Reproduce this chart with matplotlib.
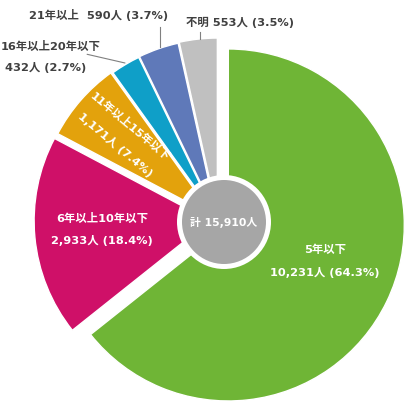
import matplotlib.pyplot as plt
from matplotlib.patches import Circle

plt.rcParams['font.family'] = ['DejaVu Sans', 'Noto Sans CJK JP']

# data
categories = ["5年以下", "6年以上10年以下", "11年以上15年以下", "16年以上20年以下", "21年以上", "不明"]
counts = [10231, 2933, 1171, 432, 590, 553]
shares = [64.3, 18.4, 7.4, 2.7, 3.7, 3.5]
total = 15910
colors = ["#6fb536", "#cf1068", "#e3a20c", "#0f9fc8", "#5f79b9", "#c0c0c0"]
explode = [0.065, 0.045, 0.035, 0.028, 0.03, 0.034]

R_PX = 176.0
CX, CY = 218.0, 220.0
FS = 8.2


def px(x, y):
    # image pixel -> data coords
    return ((x - CX) / R_PX, (CY - y) / R_PX)


fig = plt.figure(figsize=(4.05, 4.03), dpi=100)
ax = fig.add_axes([0, 0, 1, 1])
ax.pie(counts, colors=colors, explode=explode, startangle=90, counterclock=False,
       radius=1, wedgeprops=dict(edgecolor="white", linewidth=1))
ax.set_xlim(-CX / R_PX, (405 - CX) / R_PX)
ax.set_ylim(-(403 - CY) / R_PX, CY / R_PX)
ax.set_aspect("equal")
ax.axis("off")

# center circle
cc = px(224, 222)
ax.add_patch(Circle(cc, 47 / R_PX, facecolor="white", edgecolor="none", zorder=3))
ax.add_patch(Circle(cc, 42 / R_PX, facecolor="#a6a6a6", edgecolor="none", zorder=4))
ax.text(*cc, "計 {:,}人".format(total), color="white", fontsize=7.8, fontweight="bold",
        ha="center", va="center", zorder=5)

lab = lambda i: "{:,}人 ({}%)".format(counts[i], shares[i])
tk = dict(fontsize=FS, fontweight="bold", ha="center", va="center")

# inside labels
ax.text(*px(325, 250), categories[0], color="white", **tk)
ax.text(*px(325, 273), lab(0), color="white", **tk)
ax.text(*px(102, 218), categories[1], color="white", **tk)
ax.text(*px(102, 240), lab(1), color="white", **tk)
ax.text(*px(130, 127), categories[2], color="white", rotation=-40,
        rotation_mode="anchor", **tk)
ax.text(*px(115, 145), lab(2), color="white", rotation=-40,
        rotation_mode="anchor", **tk)

# outside labels
dark = "#404040"
line = dict(arrowstyle="-", color="#808080", lw=0.8, shrinkA=0, shrinkB=0)
ax.annotate(categories[3], xy=px(125, 63), xytext=px(101, 46), color=dark,
            fontsize=FS, fontweight="bold", ha="right", va="center", arrowprops=line)
ax.text(*px(5, 67), lab(3), color=dark, fontsize=FS, fontweight="bold", ha="left", va="center")
ax.text(*px(99, 15), categories[4] + "  " + lab(4), color=dark,
        fontsize=FS, fontweight="bold", ha="center", va="center")
ax.plot(*zip(px(160, 27), px(160, 47)), color="#808080", lw=0.8)
ax.text(*px(240, 22), categories[5] + " " + lab(5), color=dark, fontsize=FS,
        fontweight="bold", ha="center", va="center")
ax.plot(*zip(px(200, 32), px(200, 39)), color="#808080", lw=0.8)

fig.savefig("out.png", dpi=100)
